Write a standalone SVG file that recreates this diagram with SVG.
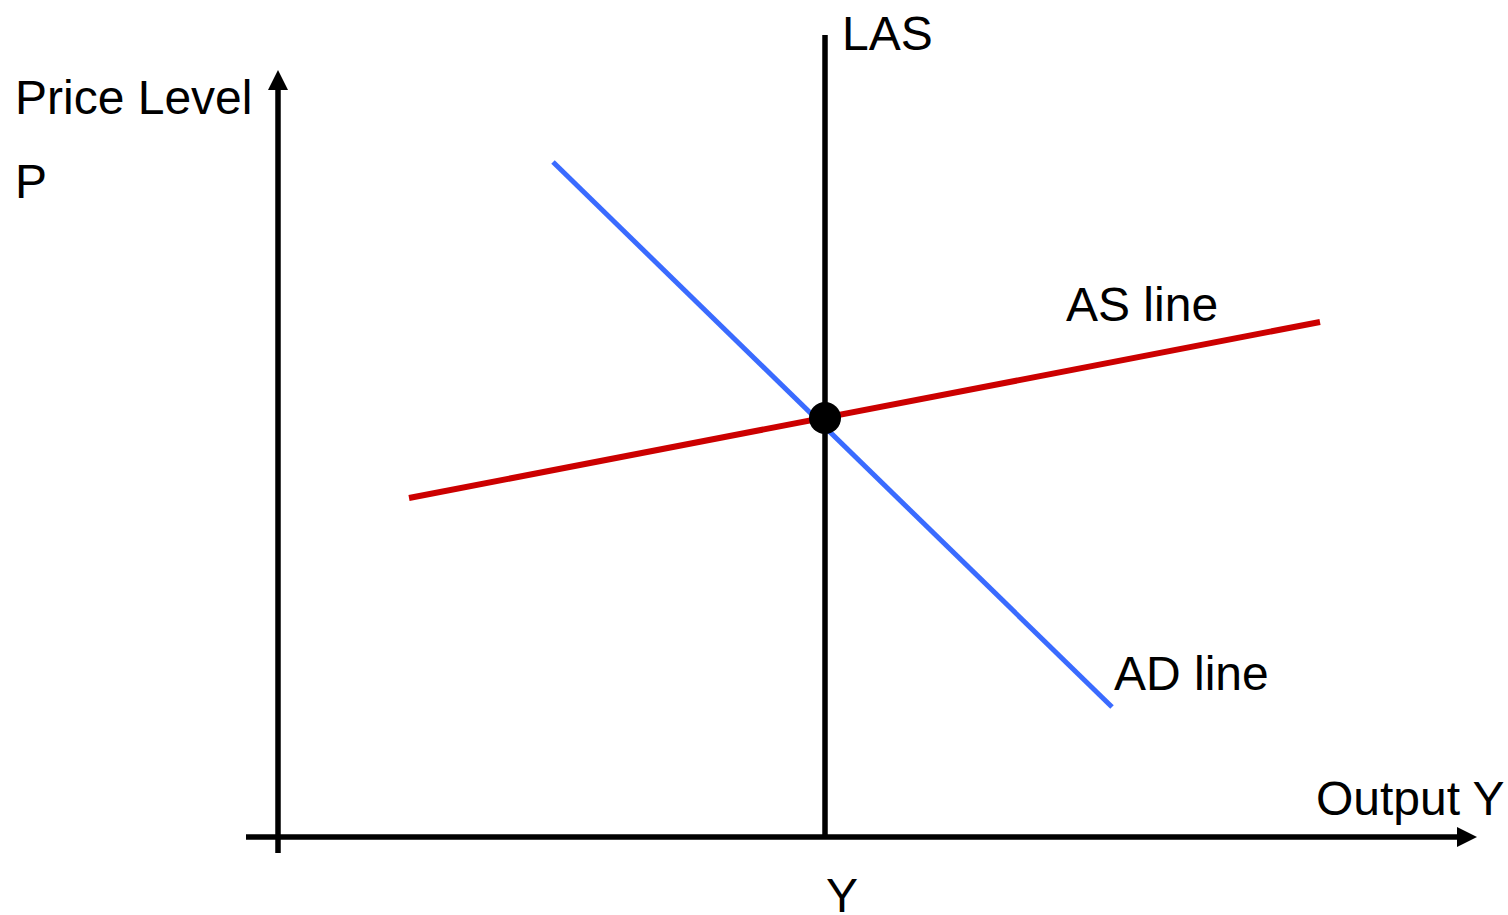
<svg xmlns="http://www.w3.org/2000/svg" width="1508" height="915" viewBox="0 0 1508 915">
<style>
text{font-family:"Liberation Sans",Arial,sans-serif;font-size:48px;fill:#000}
.ax{stroke:#000;stroke-width:5.5;fill:none}
</style>
<defs>
<marker id="ah" viewBox="0 0 20 20" refX="1" refY="10" markerWidth="20" markerHeight="20" orient="auto" markerUnits="userSpaceOnUse">
<path d="M0,0 L20,10 L0,20 z" fill="#000"/>
</marker>
</defs>
<rect width="1508" height="915" fill="#fff"/>
<g id="connectors">
<line class="ax" x1="278" y1="853" x2="278" y2="89" marker-end="url(#ah)"/>
<line class="ax" x1="246" y1="837" x2="1458" y2="837" marker-end="url(#ah)"/>
<line class="ax" x1="825" y1="35" x2="825" y2="837"/>
<line x1="553" y1="162" x2="1112" y2="707" stroke="#3a6bff" stroke-width="5"/>
<line x1="409" y1="498" x2="1320" y2="322" stroke="#cc0000" stroke-width="6"/>
</g>
<g id="equilibrium"><circle cx="825" cy="418" r="16" fill="#000"/></g>
<g id="labels">
<text x="15" y="114">Price Level</text>
<text x="15" y="198">P</text>
<text x="842" y="50">LAS</text>
<text x="1066" y="321">AS line</text>
<text x="1114" y="690">AD line</text>
<text x="1316" y="815">Output Y</text>
<text x="826" y="912">Y</text>
</g>
</svg>
